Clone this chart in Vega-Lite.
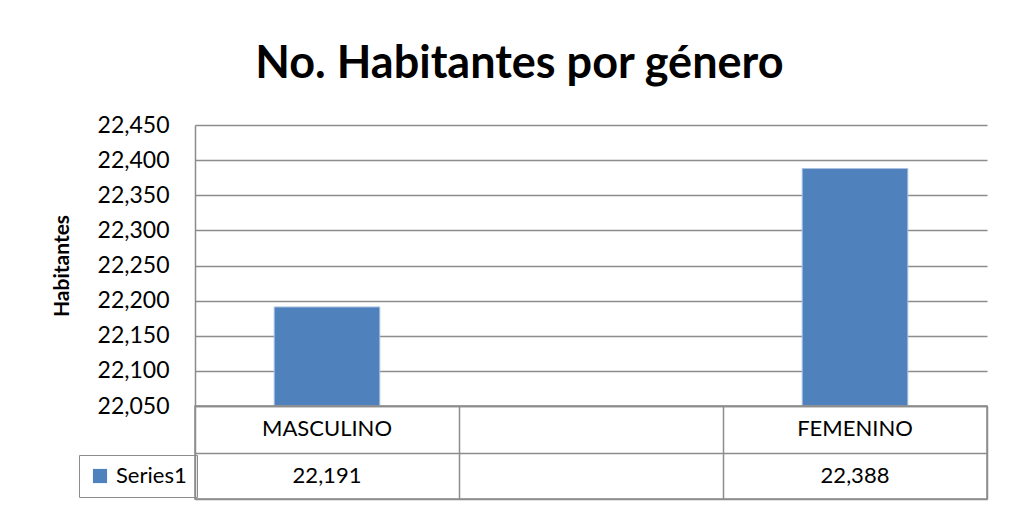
{
  "$schema": "https://vega.github.io/schema/vega-lite/v6.json",
  "background": "white",
  "padding": {"left": 51, "top": 42, "right": 5, "bottom": 5},
  "config": {"font": "Lato", "text": {"font": "Lato"}},
  "title": {"text": "No. Habitantes por género", "anchor": "middle", "frame": "bounds", "font": "Lato", "fontSize": 45, "fontWeight": "bold", "color": "#000000", "offset": 27},
  "datasets": {
    "d": [
      {"genero": "MASCULINO", "habitantes": 22191, "serie": "Series1"},
      {"genero": " ", "habitantes": null, "serie": "Series1"},
      {"genero": "FEMENINO", "habitantes": 22388, "serie": "Series1"}
    ]
  },
  "data": {"name": "d"},
  "spacing": 0,
  "bounds": "flush",
  "vconcat": [
    {
      "width": 792,
      "height": 281,
      "view": {"stroke": null},
      "mark": {"type": "bar", "stroke": "#a9c1df", "strokeWidth": 1},
      "encoding": {
        "x": {"field": "genero", "type": "nominal", "sort": null,
          "scale": {"domain": ["MASCULINO", " ", "FEMENINO"], "paddingInner": 0.6, "paddingOuter": 0.3},
          "axis": null},
        "y": {"field": "habitantes", "type": "quantitative",
          "scale": {"domain": [22050, 22450], "nice": false, "zero": false},
          "axis": {"values": [22050, 22100, 22150, 22200, 22250, 22300, 22350, 22400, 22450],
            "format": ",d", "title": "Habitantes", "titleFont": "Lato", "titleFontSize": 21, "titleFontWeight": "bold", "titleColor": "#000000", "titlePadding": 25,
            "labelFont": "Lato", "labelFontSize": 23, "labelColor": "#000000", "labelPadding": 26, "labelOverlap": false,
            "ticks": false, "domain": true, "domainColor": "#8c8c8c", "domainWidth": 1.5,
            "grid": true, "gridColor": "#8c8c8c", "gridWidth": 1.5}},
        "y2": {"datum": 22050},
        "color": {"field": "serie", "type": "nominal", "scale": {"range": ["#4f81bd"]},
          "legend": {"title": null, "orient": "none", "legendX": -116, "legendY": 330, "symbolType": "square", "symbolSize": 200, "symbolStrokeWidth": 0,
            "labelFont": "Lato", "labelFontSize": 22, "labelColor": "#000000", "labelOffset": 5, "strokeColor": "#8c8c8c", "padding": 10}}
      }
    },
    {
      "width": 792,
      "height": 93,
      "view": {"stroke": "#8c8c8c", "strokeWidth": 1.5},
      "encoding": {
        "x": {"field": "genero", "type": "nominal", "sort": null,
          "scale": {"domain": ["MASCULINO", " ", "FEMENINO"], "paddingInner": 0, "paddingOuter": 0},
          "axis": {"title": null, "labels": false, "ticks": false, "domain": false, "grid": true, "tickBand": "extent", "gridColor": "#8c8c8c", "gridWidth": 1.5}}
      },
      "layer": [
        {
          "mark": {"type": "text", "font": "Lato", "fontSize": 22, "color": "#000000"},
          "encoding": {
            "y": {"datum": "fila1", "type": "nominal", "scale": {"domain": ["fila1", "fila2"], "paddingInner": 0, "paddingOuter": 0},
              "axis": {"title": null, "labels": false, "ticks": false, "domain": false, "grid": true, "tickBand": "extent", "gridColor": "#8c8c8c", "gridWidth": 1.5}},
            "text": {"field": "genero"}
          }
        },
        {
          "transform": [{"filter": "datum.habitantes != null"}],
          "mark": {"type": "text", "font": "Lato", "fontSize": 22, "color": "#000000"},
          "encoding": {
            "y": {"datum": "fila2", "type": "nominal"},
            "text": {"field": "habitantes", "type": "quantitative", "format": ",d"}
          }
        }
      ]
    }
  ]
}
